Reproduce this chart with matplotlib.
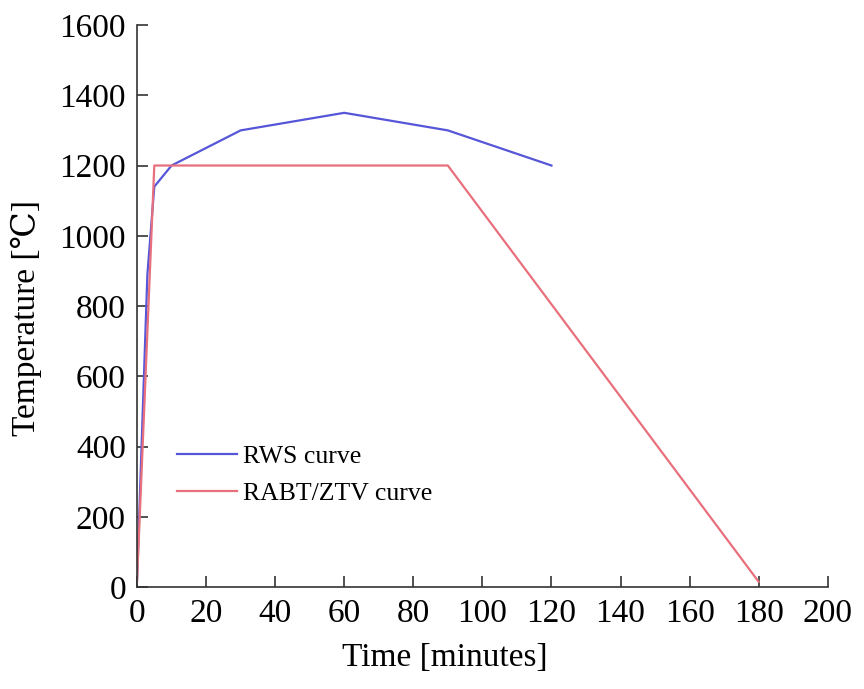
import matplotlib
matplotlib.use("Agg")
import matplotlib.pyplot as plt

plt.rcParams['font.family'] = ['Liberation Serif', 'DejaVu Serif']

# fire curves (time in minutes, temperature in degC)
rws_time = [0, 3, 5, 10, 30, 60, 90, 120]
rws_temp = [20, 890, 1140, 1200, 1300, 1350, 1300, 1200]

rabt_time = [0, 5, 90, 180]
rabt_temp = [15, 1200, 1200, 15]

x_ticks = [0, 20, 40, 60, 80, 100, 120, 140, 160, 180, 200]
y_ticks = [0, 200, 400, 600, 800, 1000, 1200, 1400, 1600]

fig = plt.figure(figsize=(8.64, 6.89), dpi=100)
ax = fig.add_axes([0.1586, 0.148, 0.7994, 0.8157])

ax.plot(rws_time, rws_temp, color='#5656d8', lw=1.6, label='RWS curve')
ax.plot(rabt_time, rabt_temp, color='#e8707c', lw=1.6, label='RABT/ZTV curve')

ax.set_xlim(0, 200)
ax.set_ylim(0, 1600)
ax.set_xticks(x_ticks)
ax.set_yticks(y_ticks)
ax.tick_params(direction='in', length=8, width=1.2, labelsize=24, colors='#333333')
ax.tick_params(axis='x', pad=8)
ax.tick_params(axis='y', pad=8)
for lab in ax.get_xticklabels() + ax.get_yticklabels():
    lab.set_color('black')

ax.spines['top'].set_visible(False)
ax.spines['right'].set_visible(False)
for s in ('left', 'bottom'):
    ax.spines[s].set_linewidth(1.2)
    ax.spines[s].set_color('#333333')

ax.set_xlabel('Time [minutes]', fontsize=24, labelpad=10)
ax.xaxis.label.set_x(0.4457)
ax.set_ylabel('Temperature [℃]', fontsize=24)
ax.yaxis.set_label_coords(-0.1375, 0.478)

ax.legend(loc='upper left', bbox_to_anchor=(0.0245, 0.2936), frameon=False,
          fontsize=18.5, handlelength=2.35, handletextpad=0.2, labelspacing=0.54)

fig.savefig('out.png', dpi=100)
